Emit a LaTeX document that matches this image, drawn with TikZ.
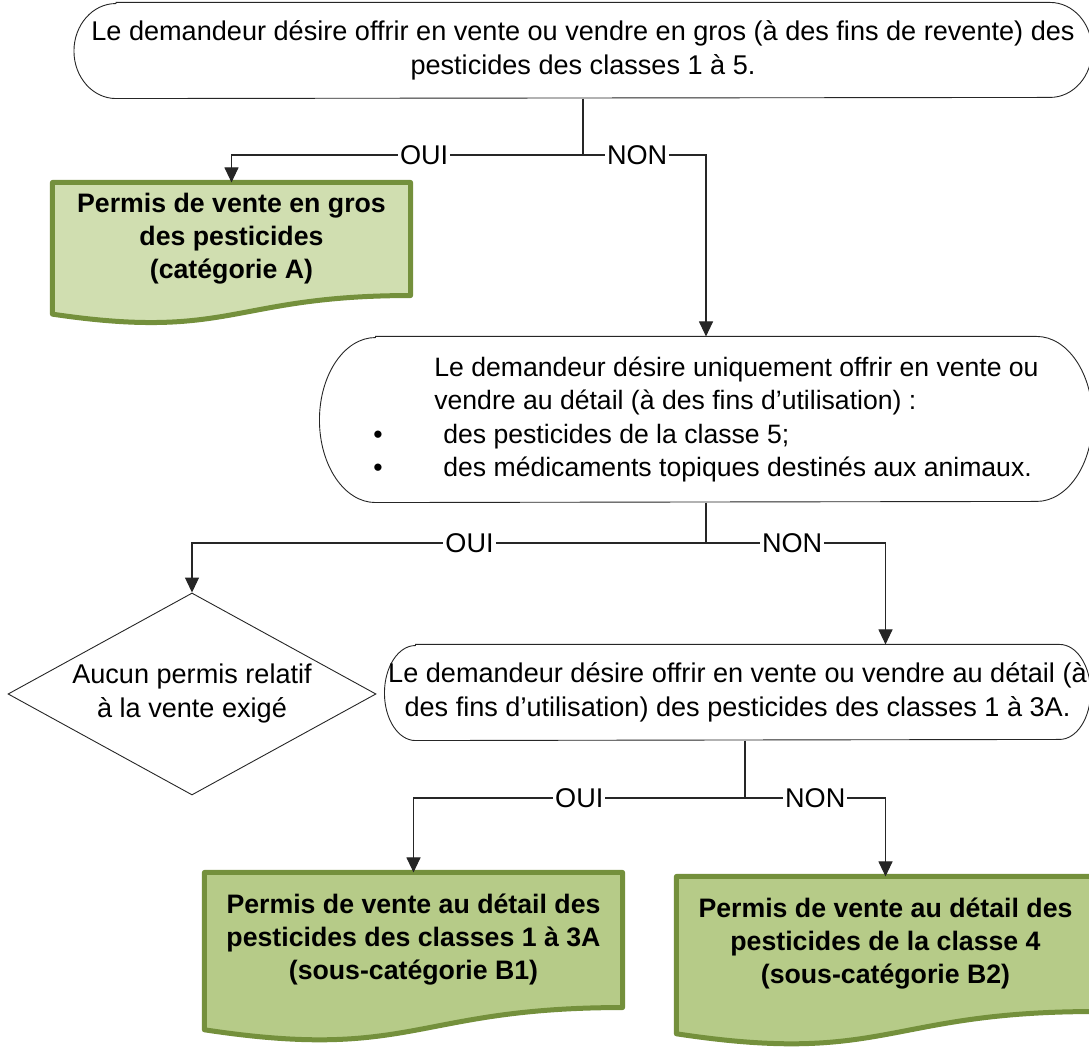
\documentclass[tikz,border=0pt]{standalone}
\usepackage{fontspec}
\setmainfont{Liberation Sans}
\usetikzlibrary{arrows.meta,calc,backgrounds,shapes.geometric}
\definecolor{trait}{rgb}{0.15,0.15,0.15}
\definecolor{vertbord}{RGB}{116,144,60}
\definecolor{vertpale}{RGB}{208,222,176}
\definecolor{vertfonce}{RGB}{182,203,136}

\begin{document}
\begin{tikzpicture}[x=1pt, y=1pt, >={Triangle[width=14pt,length=15pt]}, font=\fontsize{27.1}{34}\selectfont, line width=1.1pt]
  \tikzstyle{question}=[rectangle, inner sep=2pt, align=center]
  \tikzstyle{permis}=[rectangle, inner sep=3pt, align=center, minimum width=417pt, minimum height=134pt, font=\fontsize{26.7}{33}\selectfont\bfseries]
  \tikzstyle{reponse}=[fill=white, inner sep=2pt]
  \tikzstyle{fleche}=[->, draw=trait]

  \useasboundingbox (0,0) rectangle (1089,1051);

	\node[question, minimum width=1017pt, minimum height=95pt] (Q1) at (583,1000.5) {Le demandeur désire offrir en vente ou vendre en gros (à des fins de revente) des\\pesticides des classes 1 à 5.};
	\node[question, align=left, minimum width=772pt, minimum height=165pt, font=\fontsize{26.6}{33.5}\selectfont] (Q2) at (706,631.5) {\hspace*{61pt}Le demandeur désire uniquement offrir en vente ou\\\hspace*{61pt}vendre au détail (à des fins d’utilisation) :\\\makebox[70pt][l]{•}des pesticides de la classe 5;\\\makebox[70pt][l]{•}des médicaments topiques destinés aux animaux.};
	\node[question, minimum width=705pt, minimum height=95pt] (Q3) at (737.5,358.5) {Le demandeur désire offrir en vente ou vendre au détail (à\\des fins d’utilisation) des pesticides des classes 1 à 3A.};
	\node[diamond, draw=trait, line width=0.9pt, aspect=1.82, minimum width=368pt, minimum height=202pt, inner sep=0pt, align=center] (N) at (192,357) {Aucun permis relatif\\à la vente exigé};

	\node[permis, minimum width=357pt, minimum height=112pt] (PA) at (231.5,812) {Permis de vente en gros\\des pesticides\\(catégorie A)};
	\node[permis] (PB1) at (413.5,111) {Permis de vente au détail des\\pesticides des classes 1 à 3A\\(sous-catégorie B1)};
	\node[permis] (PB2) at (885.5,107) {Permis de vente au détail des\\pesticides de la classe 4\\(sous-catégorie B2)};

	\coordinate (J1) at (583,896);
	\coordinate (J2) at (706,508);
	\coordinate (J3) at (745,253);

	% contours
	\begin{scope}[on background layer]
	\foreach \n/\rx/\ry in {Q1/42/47.5, Q2/56/82.5, Q3/31/47.5}
		\draw[draw=trait, line width=0.9pt, fill=white] ([xshift=\rx pt]\n.north west) -- ([xshift=-\rx pt]\n.north east) arc[start angle=90, end angle=-90, x radius=\rx, y radius=\ry] -- ([xshift=\rx pt]\n.south west) arc[start angle=270, end angle=90, x radius=\rx, y radius=\ry] -- cycle;
	\foreach \n/\c in {PA/vertpale, PB1/vertfonce, PB2/vertfonce}
		\draw[draw=vertbord, line width=5pt, fill=\c, line join=round] (\n.north west) -- (\n.north east) -- (\n.south east) .. controls (\n.south) and ($(\n.north)!1.40!(\n.south)$) .. ($(\n.north west)!1.1646!(\n.south west)$) -- cycle;
	\end{scope}

	\draw[draw=trait] (Q1.south) -- (J1);
	\draw[fleche] (J1) -| node[reponse, pos=.226] {OUI} (PA.north);
	\draw[fleche] (J1) -| node[reponse, pos=.22] {NON} (Q2.north);

	\draw[draw=trait] (Q2.south) -- (J2);
	\draw[fleche] (J2) -| node[reponse, pos=.23] {OUI} (N.north);
	\draw[fleche] (J2) -| node[reponse, pos=.24] {NON} (Q3.north -| PB2.north);

	\draw[draw=trait] (Q3.south -| J3) -- (J3);
	\draw[fleche] (J3) -| node[reponse, pos=.25] {OUI} (PB1.north);
	\draw[fleche] (J3) -| node[reponse, pos=.25] {NON} (PB2.north);

\end{tikzpicture}
\end{document}
